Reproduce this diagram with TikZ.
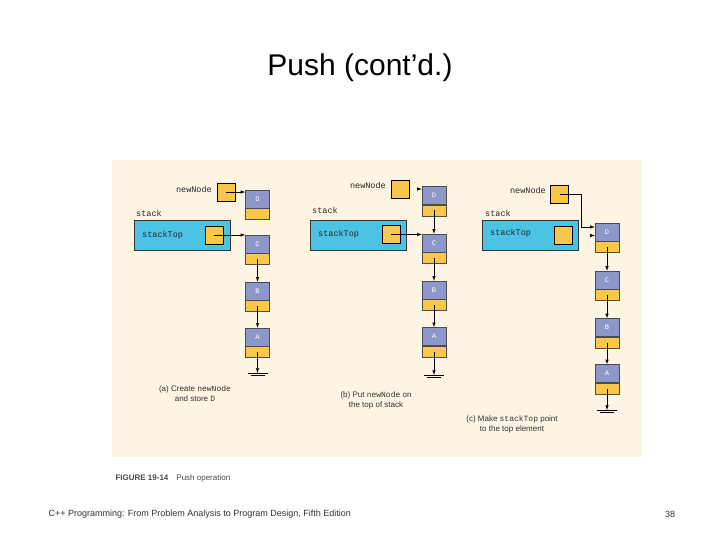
\documentclass[tikz,border=0pt]{standalone}
\usepackage{fontspec}
\setmainfont{Liberation Sans}
\setmonofont{Liberation Mono}
\begin{document}
\begin{tikzpicture}[x=1pt,y=-1pt,
  cellb/.style={draw=black!70,line width=0.5pt,fill=cellblue,minimum width=24pt,minimum height=18pt,inner sep=0pt,text=white,font=\ttfamily\fontsize{7}{8}\selectfont},
  celly/.style={draw=black!70,line width=0.5pt,fill=cellyel,minimum width=24pt,minimum height=11pt,inner sep=0pt,anchor=north},
  ptr/.style={draw=black,line width=0.6pt,fill=cellyel,minimum width=18pt,minimum height=18pt,inner sep=0pt},
  stk/.style={draw=black!80,line width=0.6pt,fill=stkcyan,minimum width=96pt,minimum height=30pt,inner sep=0pt},
  code/.style={font=\ttfamily\fontsize{8.5}{9}\selectfont,text=black!85,inner sep=0pt},
  captxt/.style={font=\fontsize{8}{10}\selectfont,text=black!80,align=center,inner sep=0pt},
  arr/.style={-latex,line width=0.6pt},
  gnd/.style={line width=0.6pt}]
\definecolor{cellblue}{HTML}{8E97C9}
\definecolor{cellyel}{HTML}{F9C84B}
\definecolor{stkcyan}{HTML}{4CC3E3}
\definecolor{panel}{HTML}{FDF4E3}
\useasboundingbox (0,0) rectangle (720,540);
\fill[white] (0,0) rectangle (720,540);
\node[font=\fontsize{30}{34}\selectfont] (title) at (360,68) {Push (cont'd.)};
\fill[panel] (112,160) rectangle (642,457);
% ---------- panel a
\node[code,anchor=east] (anl) at (212,189) {newNode};
\node[ptr] (ap) at (226,192) {};
\node[cellb] (aD) at (257.5,199) {D}; \node[celly] (aDy) at (aD.south) {};
\node[code,anchor=west] (asl) at (136,213) {stack};
\node[stk] (as) at (182,235) {};
\node[code,anchor=west] (atl) at (142,235) {stackTop};
\node[ptr] (atp) at (214,235) {};
\node[cellb] (aC) at (257.5,244) {C}; \node[celly] (aCy) at (aC.south) {};
\node[cellb] (aB) at (257.5,291) {B}; \node[celly] (aBy) at (aB.south) {};
\node[cellb] (aA) at (257.5,337) {A}; \node[celly] (aAy) at (aA.south) {};
\draw[arr] (ap.center) -- (aD.west|-ap.center);
\draw[arr] (atp.center) -- (aC.west|-atp.center);
\draw[arr] (aCy.center) -- (aB.north);
\draw[arr] (aBy.center) -- (aA.north);
\coordinate (ag) at (257.5,373);
\draw[arr] (aAy.center) -- (ag);
\draw[gnd] ([xshift=-10pt]ag) -- ([xshift=10pt]ag) ([xshift=-7pt,yshift=-2.5pt]ag) -- ([xshift=7pt,yshift=-2.5pt]ag);
\node[captxt] (acap) at (195,394) {(a) Create \texttt{newNode}\\and store \texttt{D}};
% ---------- panel b
\node[code,anchor=east] (bnl) at (386,185) {newNode};
\node[ptr] (bp) at (400,189) {};
\node[cellb] (bD) at (434,195.5) {D}; \node[celly] (bDy) at (bD.south) {};
\node[code,anchor=west] (bsl) at (312,210) {stack};
\node[stk] (bs) at (358,235.5) {};
\node[code,anchor=west] (btl) at (318,234) {stackTop};
\node[ptr] (btp) at (391,234.5) {};
\node[cellb] (bC) at (434,243) {C}; \node[celly] (bCy) at (bC.south) {};
\node[cellb] (bB) at (434,290) {B}; \node[celly] (bBy) at (bB.south) {};
\node[cellb] (bA) at (434,336.5) {A}; \node[celly] (bAy) at (bA.south) {};
\coordinate (bdt) at ([xshift=-4pt]bD.west|-bp.center);
\draw[arr] (bdt) -- (bD.west|-bp.center);
\draw[arr] (btp.center) -- (bC.west|-btp.center);
\draw[arr] (bDy.center) -- (bC.north);
\draw[arr] (bCy.center) -- (bB.north);
\draw[arr] (bBy.center) -- (bA.north);
\coordinate (bg) at (434,375);
\draw[arr] (bAy.center) -- (bg);
\draw[gnd] ([xshift=-10pt]bg) -- ([xshift=10pt]bg) ([xshift=-7pt,yshift=-2.5pt]bg) -- ([xshift=7pt,yshift=-2.5pt]bg);
\node[captxt] (bcap) at (376,400) {(b) Put \texttt{newNode} on\\the top of stack};
% ---------- panel c
\node[code,anchor=east] (cnl) at (546,190) {newNode};
\node[ptr] (cp) at (559.5,194) {};
\node[cellb] (cD) at (607,232) {D}; \node[celly] (cDy) at (cD.south) {};
\node[code,anchor=west] (csl) at (485,213) {stack};
\node[stk] (cs) at (530.5,235) {};
\node[code,anchor=west] (ctl) at (490,233) {stackTop};
\node[ptr] (ctp) at (563,235.5) {};
\node[cellb] (cC) at (607,280) {C}; \node[celly] (cCy) at (cC.south) {};
\node[cellb] (cB) at (607,327.5) {B}; \node[celly] (cBy) at (cB.south) {};
\node[cellb] (cA) at (607,373.5) {A}; \node[celly] (cAy) at (cA.south) {};
\coordinate (cbend) at (581,227);
\draw[arr] (cp.center) -| (cbend) -- (cD.west|-cbend);
\coordinate (cst) at ([xshift=-4pt]cD.west|-ctp.center);
\draw[arr] (cst) -- (cD.west|-ctp.center);
\draw[arr] (cDy.center) -- (cC.north);
\draw[arr] (cCy.center) -- (cB.north);
\draw[arr] (cBy.center) -- (cA.north);
\coordinate (cg) at (607,410);
\draw[arr] (cAy.center) -- (cg);
\draw[gnd] ([xshift=-10pt]cg) -- ([xshift=10pt]cg) ([xshift=-7pt,yshift=-2.5pt]cg) -- ([xshift=7pt,yshift=-2.5pt]cg);
\node[captxt] (ccap) at (512,424) {(c) Make \texttt{stackTop} point\\to the top element};
% ---------- figure label and footer
\node[anchor=west,font=\fontsize{8}{10}\selectfont,text=black!70] (fig) at (112,478) {\textbf{FIGURE 19-14}\quad Push operation};
\node[anchor=west,font=\fontsize{9}{11}\selectfont,text=black!80] (foot) at (45,514) {C++ Programming: From Problem Analysis to Program Design, Fifth Edition};
\node[font=\fontsize{9}{11}\selectfont,text=black!80] (pg) at (670,514) {38};
\end{tikzpicture}
\end{document}
